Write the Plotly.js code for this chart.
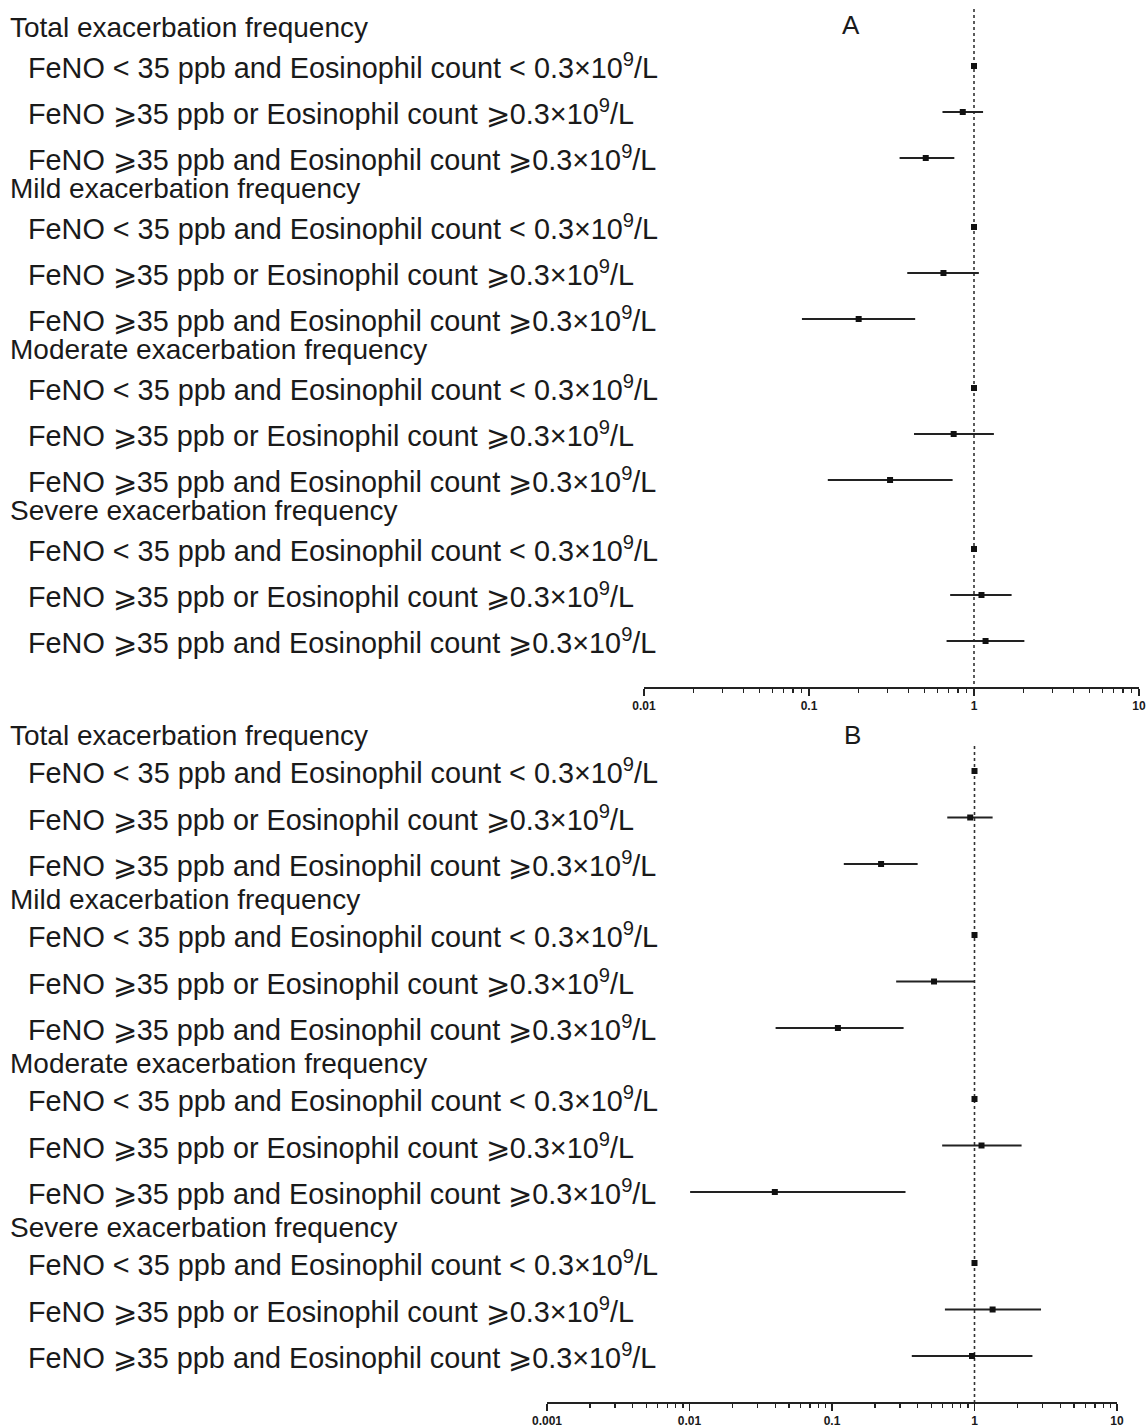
<!DOCTYPE html>
<html>
<head>
<meta charset="utf-8">
<script src="https://cdn.plot.ly/plotly-3.0.1.min.js"></script>
<style>html,body{margin:0;padding:0;background:#fff;}#chart{width:1148px;height:1428px;}</style>
</head>
<body>
<div id="chart"></div>
<script>
// ---- Data ----
var groups = ['Total exacerbation frequency', 'Mild exacerbation frequency', 'Moderate exacerbation frequency', 'Severe exacerbation frequency'];
var subgroups = [
  'FeNO < 35 ppb and Eosinophil count < 0.3×10<sup>9</sup>/L',
  'FeNO ⩾35 ppb or Eosinophil count ⩾0.3×10<sup>9</sup>/L',
  'FeNO ⩾35 ppb and Eosinophil count ⩾0.3×10<sup>9</sup>/L'
];
// Panel A (rows: group x subgroup)
var estA = [1, 0.855, 0.51,  1, 0.653, 0.200,  1, 0.753, 0.310,  1, 1.11, 1.175];
var loA  = [null, 0.644, 0.354,  null, 0.394, 0.0906,  null, 0.433, 0.130,  null, 0.717, 0.682];
var hiA  = [null, 1.135, 0.76,  null, 1.07, 0.44,  null, 1.32, 0.742,  null, 1.69, 2.02];
// Panel B
var estB = [1, 0.933, 0.221,  1, 0.520, 0.110,  1, 1.12, 0.0397,  1, 1.34, 0.96];
var loB  = [null, 0.644, 0.121,  null, 0.282, 0.0402,  null, 0.593, 0.0101,  null, 0.620, 0.363];
var hiB  = [null, 1.34, 0.399,  null, 1.0, 0.318,  null, 2.14, 0.328,  null, 2.93, 2.55];
var tickValsA = [0.01, 0.1, 1, 10];
var tickTextA = ['0.01', '0.1', '1', '10'];
var tickValsB = [0.001, 0.01, 0.1, 1, 10];
var tickTextB = ['0.001', '0.01', '0.1', '1', '10'];
var refValue = 1;

// ---- Layout helpers ----
var W = 1148, H = 1428;
var FONT = 'Liberation Sans, Arial, sans-serif';
var TXT = '#1a1a1a', LINE = '#222';

function minorVals(lo, hi) {
  var v = [];
  for (var e = lo; e < hi; e++) {
    for (var m = 2; m <= 9; m++) v.push(m * Math.pow(10, e));
  }
  return v;
}

var panels = [
  {est: estA, lo: loA, hi: hiA, xa: 'x', ya: 'y', base: 66, gStep: 161, rStep: 46, hOff: -39, top: 9, axisY: 687,
   tv: tickValsA, tt: tickTextA, xdom: [644, 1139], yTop: 0, range: [-2, 1], letter: 'A', lx: 851, ly: 25},
  {est: estB, lo: loB, hi: hiB, xa: 'x2', ya: 'y2', base: 771, gStep: 164, rStep: 46.5, hOff: -36, top: 746, axisY: 1402,
   tv: tickValsB, tt: tickTextB, xdom: [547, 1117], yTop: 700, range: [-3, 1], letter: 'B', lx: 853, ly: 735}
];

var traces = [], annotations = [];
var layout = {
  width: W, height: H, margin: {l: 0, r: 0, t: 0, b: 0},
  paper_bgcolor: '#fff', plot_bgcolor: 'rgba(0,0,0,0)', showlegend: false,
  font: {family: FONT, color: TXT}
};

panels.forEach(function (p, pi) {
  var ys = [], plus = [], minus = [];
  for (var g = 0; g < groups.length; g++) {
    var hy = p.base + g * p.gStep + p.hOff;
    annotations.push({xref: 'paper', yref: p.ya, x: 8 / W, y: hy, xanchor: 'left', yanchor: 'middle',
      text: groups[g], showarrow: false, font: {family: FONT, size: 28, color: TXT}});
    for (var r = 0; r < subgroups.length; r++) {
      var y = p.base + g * p.gStep + r * p.rStep;
      ys.push(y);
      annotations.push({xref: 'paper', yref: p.ya, x: 26 / W, y: y, xanchor: 'left', yanchor: 'middle',
        text: subgroups[r], showarrow: false, font: {family: FONT, size: 28.8, color: TXT}});
    }
  }
  p.est.forEach(function (e, i) {
    plus.push(p.hi[i] == null ? 0 : p.hi[i] - e);
    minus.push(p.lo[i] == null ? 0 : e - p.lo[i]);
  });
  // reference dotted line
  traces.push({type: 'scatter', mode: 'lines', x: [refValue, refValue], y: [p.top, p.axisY],
    xaxis: p.xa, yaxis: p.ya, line: {color: '#333', width: 1.6, dash: 'dot'}, hoverinfo: 'skip'});
  // estimates with CI
  traces.push({type: 'scatter', mode: 'markers', x: p.est, y: ys, xaxis: p.xa, yaxis: p.ya,
    marker: {symbol: 'square', size: 6, color: '#111'},
    error_x: {type: 'data', symmetric: false, array: plus, arrayminus: minus, width: 0, thickness: 2, color: LINE}});

  var xKey = pi === 0 ? 'xaxis' : 'xaxis2';
  var yKey = pi === 0 ? 'yaxis' : 'yaxis2';
  layout[xKey] = {
    type: 'log', domain: [p.xdom[0] / W, p.xdom[1] / W], range: p.range, anchor: p.ya,
    showgrid: false, zeroline: false, showline: true, linecolor: LINE, linewidth: 1.5,
    tickmode: 'array', tickvals: p.tv, ticktext: p.tt, ticks: 'outside', ticklen: 7, tickwidth: 1.5, tickcolor: LINE,
    tickfont: {family: FONT, size: 12, color: TXT, weight: 'bold'},
    minor: {tickmode: 'array', tickvals: minorVals(p.range[0], p.range[1]), ticks: 'outside', ticklen: 4, tickwidth: 1.2, tickcolor: LINE, showgrid: false},
    fixedrange: true
  };
  layout[yKey] = {
    domain: [1 - p.axisY / H, 1 - p.yTop / H], range: [p.axisY, p.yTop], autorange: false,
    visible: false, showgrid: false, zeroline: false, fixedrange: true
  };
  annotations.push({xref: 'paper', yref: 'paper', x: p.lx / W, y: 1 - p.ly / H, xanchor: 'center', yanchor: 'middle',
    text: p.letter, showarrow: false, font: {family: FONT, size: 26, color: TXT}});
});

layout.annotations = annotations;
Plotly.newPlot('chart', traces, layout, {staticPlot: true, displayModeBar: false});
</script>
</body>
</html>
